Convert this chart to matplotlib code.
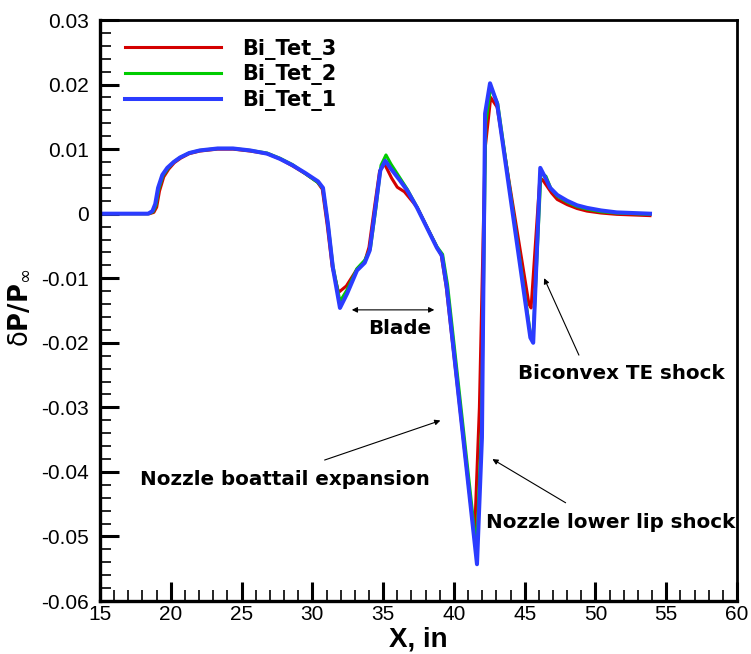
import matplotlib
matplotlib.use('Agg')
import matplotlib.pyplot as plt
from matplotlib.ticker import MultipleLocator, FuncFormatter

plt.rcParams['axes.unicode_minus'] = False

# pressure signatures for the three grids
x_tet1 = [15.0, 18.4, 18.7, 18.9, 19.1, 19.4, 19.75, 20.2, 20.65, 21.3, 22.05, 23.3, 24.4, 25.6,
          26.8, 27.7, 28.6, 29.5, 30.4, 30.75, 31.1, 31.45, 31.95, 32.45, 33.15, 33.7, 34.05,
          34.45, 34.8, 35.15, 35.5, 36.2, 36.7, 37.4, 38.1, 38.8, 39.15, 39.5, 41.63, 41.98,
          42.2, 42.55, 43.05, 45.4, 45.6, 46.1, 46.45, 46.8, 47.3, 48.0, 48.7, 49.4, 50.4, 51.5,
          53.85]
dp_tet1 = [0.0, 0.0, 0.0004, 0.0015, 0.0040, 0.0060, 0.0071, 0.0080, 0.0087, 0.0094, 0.0098,
           0.0101, 0.0101, 0.0098, 0.0093, 0.0085, 0.0075, 0.0063, 0.0050, 0.0040, -0.0016,
           -0.0084, -0.0146, -0.0124, -0.0088, -0.0076, -0.0057, 0.0009, 0.0067, 0.0082, 0.0071,
           0.0051, 0.0036, 0.0009, -0.0022, -0.0053, -0.0065, -0.0115, -0.0543, -0.0347, 0.0155,
           0.0202, 0.0171, -0.0192, -0.0200, 0.0071, 0.0056, 0.0040, 0.0029, 0.0020, 0.0013,
           0.0009, 0.0005, 0.0002, 0.0]

x_tet2 = [15.0, 18.45, 18.75, 18.95, 19.15, 19.45, 19.8, 20.2, 20.65, 21.3, 22.05, 23.3, 24.4,
          25.6, 26.8, 27.7, 28.6, 29.5, 30.4, 30.75, 31.1, 31.45, 31.95, 32.45, 33.15, 33.7,
          34.1, 34.5, 34.85, 35.2, 35.55, 36.2, 36.7, 37.4, 38.1, 38.8, 39.2, 39.55, 41.6, 41.95,
          42.25, 42.6, 43.1, 45.4, 45.6, 46.15, 46.5, 46.85, 47.3, 48.0, 48.7, 49.4, 50.4, 51.5,
          53.85]
dp_tet2 = [0.0, 0.0, 0.0003, 0.0013, 0.0038, 0.0059, 0.0070, 0.0080, 0.0087, 0.0094, 0.0098,
           0.0101, 0.0101, 0.0098, 0.0094, 0.0086, 0.0076, 0.0062, 0.0048, 0.0039, -0.0015,
           -0.0080, -0.0136, -0.0118, -0.0085, -0.0072, -0.0054, 0.0010, 0.0075, 0.0091, 0.0077,
           0.0055, 0.0038, 0.0010, -0.0021, -0.0051, -0.0063, -0.0110, -0.0520, -0.0330, 0.0140,
           0.0196, 0.0170, -0.0185, -0.0190, 0.0063, 0.0058, 0.0039, 0.0027, 0.0018, 0.0011,
           0.0007, 0.0003, 0.0001, -0.0001]

x_tet3 = [15.0, 18.5, 18.8, 19.0, 19.2, 19.5, 19.85, 20.25, 20.7, 21.3, 22.05, 23.3, 24.4, 25.6,
          26.8, 27.7, 28.6, 29.5, 30.35, 30.7, 31.05, 31.4, 31.85, 32.4, 33.15, 33.7, 34.0, 34.4,
          34.75, 35.1, 35.6, 36.0, 36.5, 37.4, 38.1, 38.8, 39.1, 39.45, 41.45, 41.8, 42.2, 42.6,
          43.05, 45.3, 45.45, 46.05, 46.25, 46.9, 47.3, 48.0, 48.7, 49.4, 50.4, 51.5, 53.85]
dp_tet3 = [0.0, 0.0, 0.0002, 0.0010, 0.0035, 0.0057, 0.0069, 0.0079, 0.0086, 0.0093, 0.0097,
           0.0100, 0.0100, 0.0097, 0.0093, 0.0085, 0.0074, 0.0062, 0.0049, 0.0038, -0.0018,
           -0.0082, -0.0122, -0.0112, -0.0086, -0.0074, -0.0052, 0.0012, 0.0066, 0.0077, 0.0055,
           0.0041, 0.0034, 0.0010, -0.0021, -0.0052, -0.0064, -0.0112, -0.0502, -0.0300, 0.0100,
           0.0180, 0.0165, -0.0140, -0.0146, 0.0048, 0.0053, 0.0032, 0.0022, 0.0014, 0.0008,
           0.0004, 0.0001, -0.0001, -0.0003]

series_names = ['Bi_Tet_3', 'Bi_Tet_2', 'Bi_Tet_1']
series_colors = ['#d40000', '#00cc00', '#2b3cff']

fig = plt.figure(figsize=(7.51, 6.54), dpi=100)
ax = fig.add_axes([0.1332, 0.081, 0.8482, 0.8884])

ax.plot(x_tet3, dp_tet3, color=series_colors[0], lw=2.2, label=series_names[0],
        solid_joinstyle='round')
ax.plot(x_tet2, dp_tet2, color=series_colors[1], lw=2.2, label=series_names[1],
        solid_joinstyle='round')
ax.plot(x_tet1, dp_tet1, color=series_colors[2], lw=2.9, label=series_names[2],
        solid_joinstyle='round')

ax.set_xlim(15, 60)
ax.set_ylim(-0.06, 0.03)
ax.xaxis.set_major_locator(MultipleLocator(5))
ax.xaxis.set_minor_locator(MultipleLocator(1))
ax.yaxis.set_major_locator(MultipleLocator(0.01))
ax.yaxis.set_minor_locator(MultipleLocator(0.002))
ax.yaxis.set_major_formatter(FuncFormatter(lambda v, p: '0' if abs(v) < 1e-9 else '%.2f' % v))
ax.xaxis.set_major_formatter(FuncFormatter(lambda v, p: '%d' % round(v)))

ax.tick_params(which='both', direction='in', top=False, right=False)
ax.tick_params(which='major', length=14, width=2.2)
ax.tick_params(which='minor', length=8, width=1.2)
ax.tick_params(axis='y', which='major', pad=8)
ax.tick_params(axis='x', which='major', pad=3)
for lab in ax.get_xticklabels() + ax.get_yticklabels():
    lab.set_fontfamily('Liberation Sans')
    lab.set_fontsize(15)
for side in ['left', 'bottom']:
    ax.spines[side].set_linewidth(2.4)
for side in ['top', 'right']:
    ax.spines[side].set_linewidth(2.0)

ax.set_xlabel('X, in', fontfamily='Liberation Sans', fontweight='bold', fontsize=20, labelpad=2)
ax.set_ylabel('δ' + r'$\mathbf{P/P}_{\infty}$', fontsize=18.5)
ax.yaxis.set_label_coords(-0.106, 0.505)

leg = ax.legend(loc='upper left', bbox_to_anchor=(0.01, 1.0), frameon=False, handlelength=4.6,
                handletextpad=1.0, labelspacing=0.22,
                prop={'family': 'DejaVu Sans', 'weight': 'bold', 'size': 15})

# annotations
bold = dict(fontfamily='DejaVu Sans', fontweight='bold', fontsize=14.3, ha='center', va='center')
thin = dict(arrowstyle='-|>', color='black', lw=0.8, mutation_scale=8)

ax.annotate('', xy=(38.81, -0.0149), xytext=(32.59, -0.0149),
            arrowprops=dict(arrowstyle='<|-|>', color='black', lw=0.8, mutation_scale=8))
ax.text(36.19, -0.0178, 'Blade', **bold)

ax.annotate('', xy=(39.23, -0.0319), xytext=(30.68, -0.0383), arrowprops=thin)
ax.text(28.07, -0.0411, 'Nozzle boattail expansion', **bold)

ax.annotate('', xy=(42.55, -0.0378), xytext=(48.06, -0.0450), arrowprops=thin)
ax.text(51.1, -0.0479, 'Nozzle lower lip shock', **bold)

ax.annotate('', xy=(46.29, -0.0096), xytext=(48.91, -0.0223), arrowprops=thin)
ax.text(51.84, -0.0248, 'Biconvex TE shock', **bold)

fig.savefig('out.png', dpi=100)
